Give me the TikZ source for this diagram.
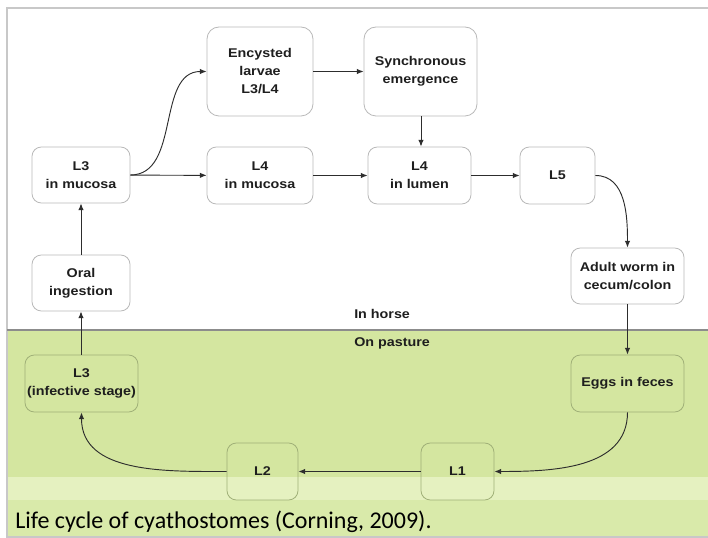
\documentclass[tikz,border=0pt]{standalone}
\usepackage{fontspec}
\setmainfont{Liberation Sans}
\newfontfamily\nodefont[FakeStretch=1.13]{Liberation Sans}
\newfontfamily\capfont{Carlito}
\usetikzlibrary{arrows.meta}
\definecolor{grassmain}{RGB}{212,230,160}
\definecolor{grasslight}{RGB}{229,241,192}
\definecolor{grassbottom}{RGB}{217,234,170}
\definecolor{framegray}{RGB}{200,200,200}
\definecolor{sepgray}{RGB}{140,140,140}
\definecolor{boxgray}{RGB}{185,185,185}
\definecolor{boxgreen}{RGB}{160,176,120}
\definecolor{arrowgray}{RGB}{45,45,45}
\definecolor{txt}{RGB}{30,30,30}
\tikzset{
  sz/.style 2 args={minimum width=#1*0.75pt, minimum height=#2*0.75pt},
  stage/.style={draw=boxgray, fill=white, line width=0.6pt, rounded corners=7pt,
    inner sep=0pt, align=center, text=txt,
    font=\nodefont\bfseries\fontsize{9.5}{13.5}\selectfont},
  gstage/.style={stage, draw=boxgreen, fill=none},
  flow/.style={draw=arrowgray, line width=0.7pt, -{Latex[length=5pt,width=4pt]}},
  zonelabel/.style={anchor=base west, inner sep=0pt, text=txt,
    font=\nodefont\bfseries\fontsize{9.5}{11}\selectfont},
}
\begin{document}
\begin{tikzpicture}[x=0.75pt,y=-0.75pt]
\useasboundingbox (0,0) rectangle (708,538);
\fill[white] (0,0) rectangle (708,538);
% pasture background
\fill[grassmain] (7,330) rectangle (708,538);
\fill[grasslight] (7,477) rectangle (708,500);
\fill[grassbottom] (7,500) rectangle (708,538);
% frame
\draw[framegray, line width=0.8pt] (708,8) -- (7,8) -- (7,537) -- (708,537);
\draw[sepgray, line width=0.8pt] (7,330) -- (708,330);
% zone labels
\node[zonelabel] (horse) at (354,319) {In horse};
\node[zonelabel] (pasture) at (354,347) {On pasture};
% stages
\node[stage, sz={106}{89}, rounded corners=9pt] (enc) at (260,71.5) {Encysted\\larvae\\L3/L4};
\node[stage, sz={113}{89}, rounded corners=9pt] (syn) at (420.5,71.5) {Synchronous\\emergence};
\node[stage, sz={98}{56}] (l3m) at (81,175) {L3\\in mucosa};
\node[stage, sz={106}{57}] (l4m) at (260,175.5) {L4\\in mucosa};
\node[stage, sz={103}{57}] (l4l) at (419.5,175.5) {L4\\in lumen};
\node[stage, sz={75}{57}] (l5) at (557.5,175.5) {L5};
\node[stage, sz={113}{56}] (adult) at (627.5,276) {Adult worm in\\cecum/colon};
\node[stage, sz={98}{56}] (oral) at (81,283) {Oral\\ingestion};
\node[gstage, sz={113}{57}] (l3i) at (81.5,383.5) {L3\\(infective stage)};
\node[gstage, sz={113}{57}] (eggs) at (627.5,383.5) {Eggs in feces};
\node[gstage, sz={71}{57}] (l2) at (262.5,471.5) {L2};
\node[gstage, sz={73}{57}] (l1) at (457.5,471.5) {L1};
% connectors
\draw[flow] (l3m.east) to[out=0,in=180] (enc.west);
\draw[flow] (l3m) -- (l4m);
\draw[flow] (enc) -- (syn);
\draw[flow] (syn.south -| 421,0) -- (l4l.north -| 421,0);
\draw[flow] (l4m) -- (l4l);
\draw[flow] (l4l) -- (l5);
\draw[flow] (l5.east) to[out=0,in=90] (adult.north);
\draw[flow] (adult) -- (eggs);
\draw[flow] (eggs.south) to[out=-90,in=0] (l1.east);
\draw[flow] (l1) -- (l2);
\draw[flow] (l2.west) to[out=180,in=-90] (l3i.south);
\draw[flow] (l3i.north -| oral.south) -- (oral.south);
\draw[flow] (oral) -- (l3m);
% caption
\node[anchor=base west, inner sep=0pt, text=black, font=\capfont\fontsize{18}{22}\selectfont] (cap) at (15,529) {Life cycle of cyathostomes (Corning, 2009).};
\end{tikzpicture}
\end{document}
